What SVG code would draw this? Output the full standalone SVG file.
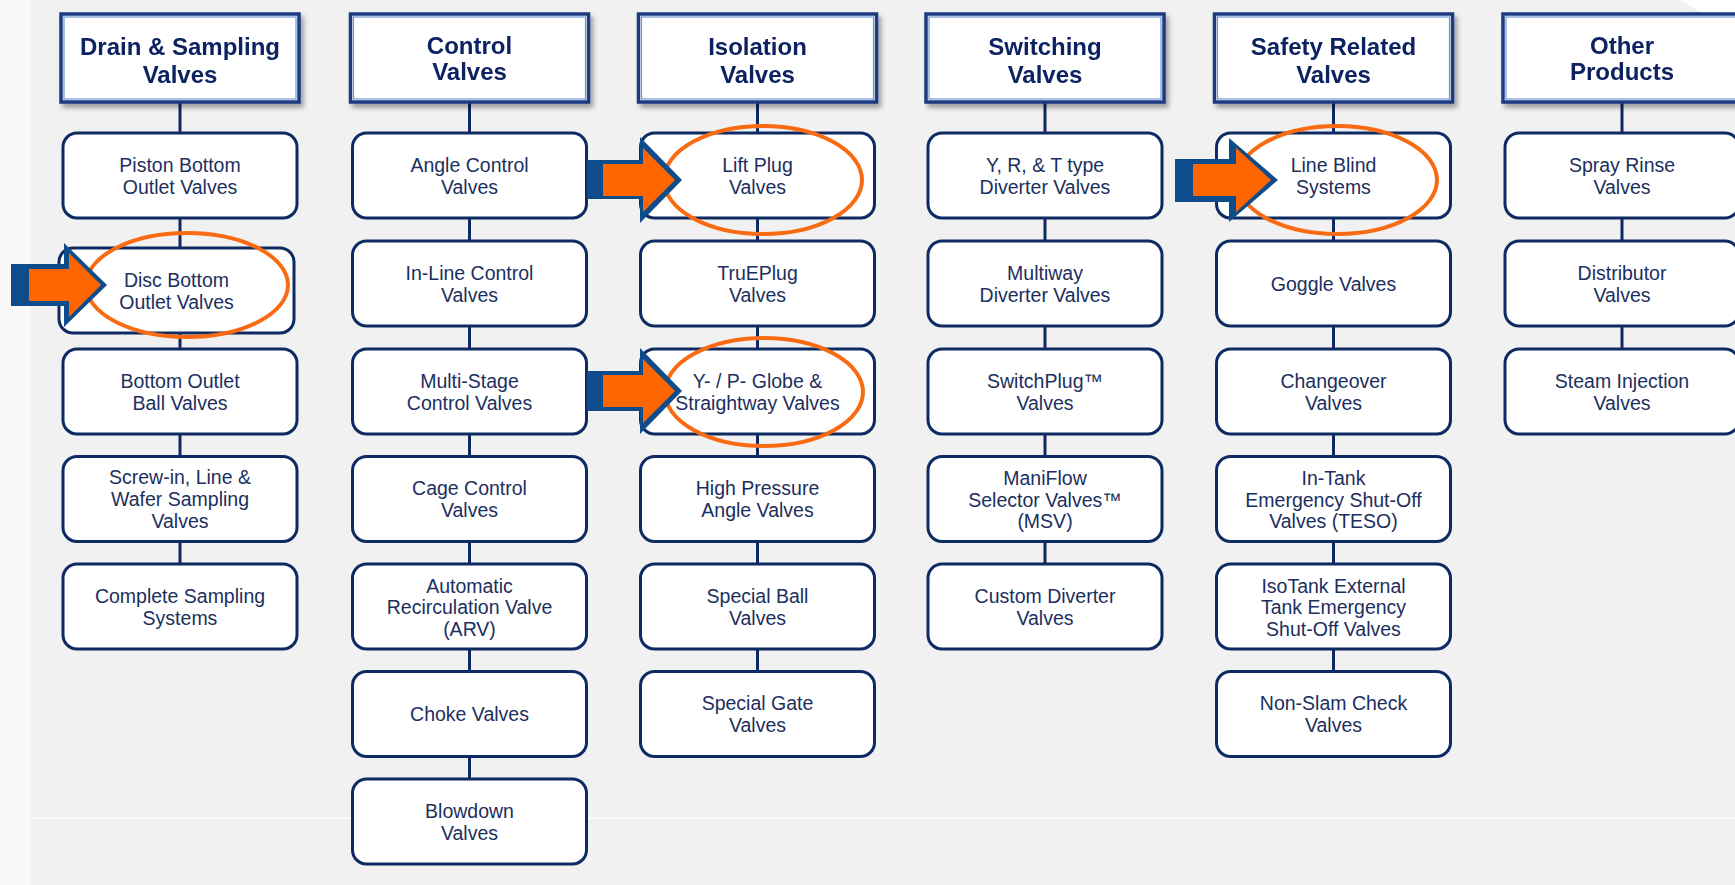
<svg xmlns="http://www.w3.org/2000/svg" width="1735" height="885" viewBox="0 0 1735 885">
<defs>
<style>
.bg{fill:#f1f1f1}
.hdr{fill:#ffffff;stroke:#1b3a82;stroke-width:3.5}
.hdrin{fill:none;stroke:#6f96d8;stroke-width:1.2}
.box{fill:#ffffff;stroke:#0e2a63;stroke-width:3}
.ht{font-family:"Liberation Sans",Arial,sans-serif;font-weight:bold;font-size:24px;fill:#0c2160;text-anchor:middle}
.bt{font-family:"Liberation Sans",Arial,sans-serif;font-size:19.5px;fill:#1c2f5e;text-anchor:middle}
.con{stroke:#0e2a63;stroke-width:3;fill:none}
.ell{fill:none;stroke:#f96b12;stroke-width:4}
.ab{fill:#0f4c8c}
.ao{fill:#ff6600}
</style>
<filter id="sh" x="-10%" y="-10%" width="125%" height="130%">
<feGaussianBlur in="SourceAlpha" stdDeviation="2.5"/>
<feOffset dx="3" dy="4" result="b"/>
<feComponentTransfer><feFuncA type="linear" slope="0.35"/></feComponentTransfer>
<feMerge><feMergeNode/><feMergeNode in="SourceGraphic"/></feMerge>
</filter>
</defs>
<rect class="bg" x="0" y="0" width="1735" height="885"/>
<rect x="0" y="0" width="31" height="885" fill="#f9f9f9"/>
<path d="M1680,0 L1735,0 L1735,26 Q1700,14 1680,0 Z" fill="#ffffff"/>
<line x1="31" y1="818" x2="1735" y2="818" stroke="#ffffff" stroke-width="1.5"/>

<g id="connectors">
<line class="con" x1="180" y1="102" x2="180" y2="564"/>
<line class="con" x1="469.5" y1="102" x2="469.5" y2="779"/>
<line class="con" x1="757.5" y1="102" x2="757.5" y2="672"/>
<line class="con" x1="1045" y1="102" x2="1045" y2="564"/>
<line class="con" x1="1333.5" y1="102" x2="1333.5" y2="672"/>
<line class="con" x1="1622" y1="102" x2="1622" y2="349"/>
</g>

<g id="headers">
<g id="h-drain" filter="url(#sh)"><rect class="hdr" x="61" y="14" width="238" height="88"/><rect class="hdrin" x="64" y="17" width="232" height="82"/><text class="ht"><tspan x="180" y="55">Drain &amp; Sampling</tspan><tspan x="180" y="83">Valves</tspan></text></g>
<g id="h-control" filter="url(#sh)"><rect class="hdr" x="350.5" y="14" width="238" height="88"/><rect class="hdrin" x="353.5" y="17" width="232" height="82"/><text class="ht"><tspan x="469.5" y="54">Control</tspan><tspan x="469.5" y="80">Valves</tspan></text></g>
<g id="h-isolation" filter="url(#sh)"><rect class="hdr" x="638.5" y="14" width="238" height="88"/><rect class="hdrin" x="641.5" y="17" width="232" height="82"/><text class="ht"><tspan x="757.5" y="55">Isolation</tspan><tspan x="757.5" y="83">Valves</tspan></text></g>
<g id="h-switching" filter="url(#sh)"><rect class="hdr" x="926" y="14" width="238" height="88"/><rect class="hdrin" x="929" y="17" width="232" height="82"/><text class="ht"><tspan x="1045" y="55">Switching</tspan><tspan x="1045" y="83">Valves</tspan></text></g>
<g id="h-safety" filter="url(#sh)"><rect class="hdr" x="1214.5" y="14" width="238" height="88"/><rect class="hdrin" x="1217.5" y="17" width="232" height="82"/><text class="ht"><tspan x="1333.5" y="55">Safety Related</tspan><tspan x="1333.5" y="83">Valves</tspan></text></g>
<g id="h-other" filter="url(#sh)"><rect class="hdr" x="1503" y="14" width="238" height="88"/><rect class="hdrin" x="1506" y="17" width="232" height="82"/><text class="ht"><tspan x="1622" y="54">Other</tspan><tspan x="1622" y="80">Products</tspan></text></g>
</g>

<!-- Column 1 -->
<g id="n-piston"><rect class="box" x="63" y="133" width="234" height="85" rx="14"/><text class="bt"><tspan x="180" y="171.5">Piston Bottom</tspan><tspan x="180" y="193.5">Outlet Valves</tspan></text></g>
<g id="n-disc"><rect class="box" x="59" y="248" width="235" height="85" rx="14"/><text class="bt"><tspan x="176.5" y="286.5">Disc Bottom</tspan><tspan x="176.5" y="308.5">Outlet Valves</tspan></text></g>
<g id="n-bottomball"><rect class="box" x="63" y="349" width="234" height="85" rx="14"/><text class="bt"><tspan x="180" y="387.5">Bottom Outlet</tspan><tspan x="180" y="409.5">Ball Valves</tspan></text></g>
<g id="n-screwin"><rect class="box" x="63" y="456.5" width="234" height="85" rx="14"/><text class="bt"><tspan x="180" y="484">Screw-in, Line &amp;</tspan><tspan x="180" y="506">Wafer Sampling</tspan><tspan x="180" y="528">Valves</tspan></text></g>
<g id="n-completesampling"><rect class="box" x="63" y="564" width="234" height="85" rx="14"/><text class="bt"><tspan x="180" y="602.5">Complete Sampling</tspan><tspan x="180" y="624.5">Systems</tspan></text></g>

<!-- Column 2 -->
<g id="n-anglecontrol"><rect class="box" x="352.5" y="133" width="234" height="85" rx="14"/><text class="bt"><tspan x="469.5" y="171.5">Angle Control</tspan><tspan x="469.5" y="193.5">Valves</tspan></text></g>
<g id="n-inlinecontrol"><rect class="box" x="352.5" y="241" width="234" height="85" rx="14"/><text class="bt"><tspan x="469.5" y="279.5">In-Line Control</tspan><tspan x="469.5" y="301.5">Valves</tspan></text></g>
<g id="n-multistage"><rect class="box" x="352.5" y="349" width="234" height="85" rx="14"/><text class="bt"><tspan x="469.5" y="387.5">Multi-Stage</tspan><tspan x="469.5" y="409.5">Control Valves</tspan></text></g>
<g id="n-cagecontrol"><rect class="box" x="352.5" y="456.5" width="234" height="85" rx="14"/><text class="bt"><tspan x="469.5" y="495">Cage Control</tspan><tspan x="469.5" y="517">Valves</tspan></text></g>
<g id="n-arv"><rect class="box" x="352.5" y="564" width="234" height="85" rx="14"/><text class="bt"><tspan x="469.5" y="592.5">Automatic</tspan><tspan x="469.5" y="614">Recirculation Valve</tspan><tspan x="469.5" y="635.5">(ARV)</tspan></text></g>
<g id="n-choke"><rect class="box" x="352.5" y="671.5" width="234" height="85" rx="14"/><text class="bt"><tspan x="469.5" y="720.5">Choke Valves</tspan></text></g>
<g id="n-blowdown"><rect class="box" x="352.5" y="779" width="234" height="85" rx="14"/><text class="bt"><tspan x="469.5" y="817.5">Blowdown</tspan><tspan x="469.5" y="839.5">Valves</tspan></text></g>

<!-- Column 3 -->
<g id="n-liftplug"><rect class="box" x="640.5" y="133" width="234" height="85" rx="14"/><text class="bt"><tspan x="757.5" y="171.5">Lift Plug</tspan><tspan x="757.5" y="193.5">Valves</tspan></text></g>
<g id="n-trueplug"><rect class="box" x="640.5" y="241" width="234" height="85" rx="14"/><text class="bt"><tspan x="757.5" y="279.5">TruEPlug</tspan><tspan x="757.5" y="301.5">Valves</tspan></text></g>
<g id="n-globe"><rect class="box" x="640.5" y="349" width="234" height="85" rx="14"/><text class="bt"><tspan x="757.5" y="387.5">Y- / P- Globe &amp;</tspan><tspan x="757.5" y="409.5">Straightway Valves</tspan></text></g>
<g id="n-highpressure"><rect class="box" x="640.5" y="456.5" width="234" height="85" rx="14"/><text class="bt"><tspan x="757.5" y="495">High Pressure</tspan><tspan x="757.5" y="517">Angle Valves</tspan></text></g>
<g id="n-specialball"><rect class="box" x="640.5" y="564" width="234" height="85" rx="14"/><text class="bt"><tspan x="757.5" y="602.5">Special Ball</tspan><tspan x="757.5" y="624.5">Valves</tspan></text></g>
<g id="n-specialgate"><rect class="box" x="640.5" y="671.5" width="234" height="85" rx="14"/><text class="bt"><tspan x="757.5" y="710">Special Gate</tspan><tspan x="757.5" y="732">Valves</tspan></text></g>

<!-- Column 4 -->
<g id="n-yrt"><rect class="box" x="928" y="133" width="234" height="85" rx="14"/><text class="bt"><tspan x="1045" y="171.5">Y, R, &amp; T type</tspan><tspan x="1045" y="193.5">Diverter Valves</tspan></text></g>
<g id="n-multiway"><rect class="box" x="928" y="241" width="234" height="85" rx="14"/><text class="bt"><tspan x="1045" y="279.5">Multiway</tspan><tspan x="1045" y="301.5">Diverter Valves</tspan></text></g>
<g id="n-switchplug"><rect class="box" x="928" y="349" width="234" height="85" rx="14"/><text class="bt"><tspan x="1045" y="387.5">SwitchPlug™</tspan><tspan x="1045" y="409.5">Valves</tspan></text></g>
<g id="n-maniflow"><rect class="box" x="928" y="456.5" width="234" height="85" rx="14"/><text class="bt"><tspan x="1045" y="485">ManiFlow</tspan><tspan x="1045" y="506.5">Selector Valves™</tspan><tspan x="1045" y="528">(MSV)</tspan></text></g>
<g id="n-customdiverter"><rect class="box" x="928" y="564" width="234" height="85" rx="14"/><text class="bt"><tspan x="1045" y="602.5">Custom Diverter</tspan><tspan x="1045" y="624.5">Valves</tspan></text></g>

<!-- Column 5 -->
<g id="n-lineblind"><rect class="box" x="1216.5" y="133" width="234" height="85" rx="14"/><text class="bt"><tspan x="1333.5" y="171.5">Line Blind</tspan><tspan x="1333.5" y="193.5">Systems</tspan></text></g>
<g id="n-goggle"><rect class="box" x="1216.5" y="241" width="234" height="85" rx="14"/><text class="bt"><tspan x="1333.5" y="290.5">Goggle Valves</tspan></text></g>
<g id="n-changeover"><rect class="box" x="1216.5" y="349" width="234" height="85" rx="14"/><text class="bt"><tspan x="1333.5" y="387.5">Changeover</tspan><tspan x="1333.5" y="409.5">Valves</tspan></text></g>
<g id="n-teso"><rect class="box" x="1216.5" y="456.5" width="234" height="85" rx="14"/><text class="bt"><tspan x="1333.5" y="485">In-Tank</tspan><tspan x="1333.5" y="506.5">Emergency Shut-Off</tspan><tspan x="1333.5" y="528">Valves (TESO)</tspan></text></g>
<g id="n-isotank"><rect class="box" x="1216.5" y="564" width="234" height="85" rx="14"/><text class="bt"><tspan x="1333.5" y="592.5">IsoTank External</tspan><tspan x="1333.5" y="614">Tank Emergency</tspan><tspan x="1333.5" y="635.5">Shut-Off Valves</tspan></text></g>
<g id="n-nonslam"><rect class="box" x="1216.5" y="671.5" width="234" height="85" rx="14"/><text class="bt"><tspan x="1333.5" y="710">Non-Slam Check</tspan><tspan x="1333.5" y="732">Valves</tspan></text></g>

<!-- Column 6 -->
<g id="n-sprayrinse"><rect class="box" x="1505" y="133" width="234" height="85" rx="14"/><text class="bt"><tspan x="1622" y="171.5">Spray Rinse</tspan><tspan x="1622" y="193.5">Valves</tspan></text></g>
<g id="n-distributor"><rect class="box" x="1505" y="241" width="234" height="85" rx="14"/><text class="bt"><tspan x="1622" y="279.5">Distributor</tspan><tspan x="1622" y="301.5">Valves</tspan></text></g>
<g id="n-steaminjection"><rect class="box" x="1505" y="349" width="234" height="85" rx="14"/><text class="bt"><tspan x="1622" y="387.5">Steam Injection</tspan><tspan x="1622" y="409.5">Valves</tspan></text></g>

<g id="highlights">
<ellipse class="ell" cx="187" cy="285" rx="101" ry="52"/>
<ellipse class="ell" cx="763" cy="180" rx="99" ry="54"/>
<ellipse class="ell" cx="764" cy="392" rx="99" ry="54"/>
<ellipse class="ell" cx="1337" cy="180" rx="100" ry="54"/>
</g>

<g id="arrows">
<polygon class="ab" points="11,264 64,264 64,243 107,285 64,327 64,306 11,306"/>
<polygon class="ao" points="29,269 69,269 69,253 101,285 69,317 69,301 29,301"/>
<polygon class="ab" points="587,160 640,160 640,137 682,180 640,223 640,199 587,199"/>
<polygon class="ao" points="603,164 643,164 643,148 675,180 643,212 643,196 603,196"/>
<polygon class="ab" points="587,371 640,371 640,348 682,391 640,434 640,411 587,411"/>
<polygon class="ao" points="603,375 643,375 643,359 675,391 643,423 643,407 603,407"/>
<polygon class="ab" points="1175,159 1229,159 1229,138 1278,180 1229,222 1229,202 1175,202"/>
<polygon class="ao" points="1193,164 1236,164 1236,148 1271,180 1236,212 1236,196 1193,196"/>
</g>
</svg>
